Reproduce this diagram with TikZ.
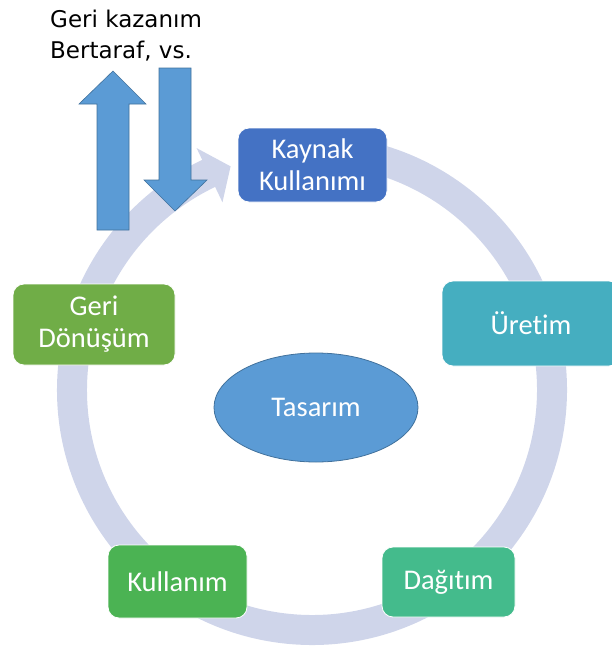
\documentclass[tikz,border=0pt]{standalone}
\usepackage{fontspec}
\setmainfont{Carlito}[Ligatures=NoCommon]
\newfontfamily\labelfont{DejaVu Sans}
\usetikzlibrary{shapes.geometric}

\definecolor{ringcol}{HTML}{CFD5EA}
\definecolor{kaynakcol}{HTML}{4472C4}
\definecolor{uretimcol}{HTML}{45AEC0}
\definecolor{dagitimcol}{HTML}{44BB8C}
\definecolor{kullanimcol}{HTML}{4BB353}
\definecolor{gericol}{HTML}{70AD47}
\definecolor{designcol}{HTML}{5B9BD5}
\definecolor{designedge}{HTML}{41719C}

\tikzset{
  stage/.style={rounded corners=11pt, draw=white, line width=0.8pt,
    text=white, align=center, inner sep=0pt,
    font=\fontsize{28.5}{32}\selectfont},
  bigarrow/.style={fill=designcol, draw=designedge, line width=0.6pt,
    line join=miter},
  sidetext/.style={anchor=base west, inner sep=0pt,
    font=\labelfont\fontsize{23}{31}\selectfont}
}

\begin{document}
\begin{tikzpicture}[x=1pt, y=-1pt]
  \useasboundingbox (0,0) rectangle (612,648);
  \clip (0,0) rectangle (612,648);

  % circular flow band with its arrow head
  \coordinate (c) at (312,390);
  \draw[ringcol, line width=30pt]
    ([shift={(-85:240)}]c) arc[start angle=-85, end angle=244.8, radius=240];
  \fill[ringcol] ([shift={(244.5:268)}]c) -- ([shift={(250:238)}]c)
    -- ([shift={(244.5:208)}]c) -- cycle;

  % stages of the cycle
  \node[stage, fill=kaynakcol, minimum width=149pt, minimum height=74pt]
    (kaynak) at (312.5,165) {Kaynak\\Kullanımı};
  \node[stage, fill=uretimcol, minimum width=178pt, minimum height=85pt]
    (uretim) at (531,323.5) {Üretim};
  \node[stage, fill=dagitimcol, minimum width=133pt, minimum height=70pt]
    (dagitim) at (448.5,582) {Dağıtım};
  \node[stage, fill=kullanimcol, minimum width=139pt, minimum height=73pt]
    (kullanim) at (177.5,581.5) {Kullanım};
  \node[stage, fill=gericol, minimum width=162pt, minimum height=81pt]
    (geri) at (94,324.5) {Geri\\Dönüşüm};

  % design at the centre
  \node[ellipse, fill=designcol, draw=designedge, line width=0.8pt,
    minimum width=204pt, minimum height=109pt, inner sep=0pt,
    text=white, font=\fontsize{28.5}{32}\selectfont]
    (tasarim) at (316,407.5) {Tasarım};

  % up and down block arrows
  \draw[bigarrow] (97,230) -- (97,104) -- (79,104) -- (113,71)
    -- (146,104) -- (129,104) -- (129,230) -- cycle;
  \draw[bigarrow] (159,68) -- (191,68) -- (191,180) -- (207,180)
    -- (175,211) -- (144,180) -- (159,180) -- cycle;

  \node[sidetext] (gk) at (50,27) {Geri kazanım};
  \node[sidetext] (bv) at (50,58) {Bertaraf, vs.};
\end{tikzpicture}
\end{document}
